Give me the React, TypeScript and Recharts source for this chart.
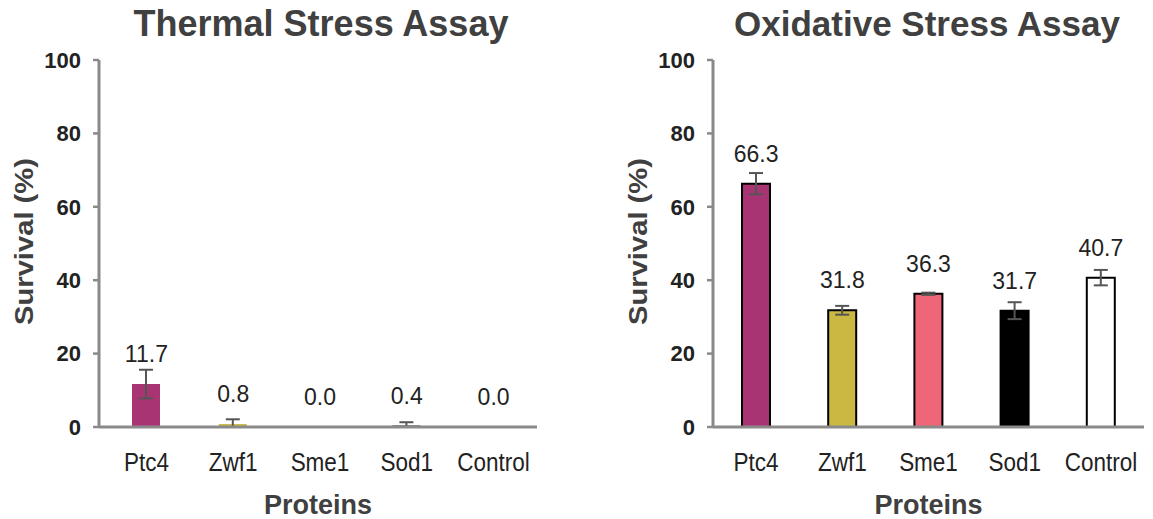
import React from 'react'
import { ComposedChart, Bar, Line, XAxis, YAxis, ErrorBar, LabelList, Cell } from 'recharts'

const proteins = ['Ptc4', 'Zwf1', 'Sme1', 'Sod1', 'Control']
const yTicks = [0, 20, 40, 60, 80, 100]

// thermal stress survival (%) and error (below, above)
const thermalSurvival = [11.7, 0.8, 0.0, 0.4, 0.0]
const thermalError = [[3.9, 3.9], [0.8, 1.3], [0, 0], [0.4, 0.9], [0, 0]]

// oxidative stress survival (%) and error
const oxidativeSurvival = [66.3, 31.8, 36.3, 31.7, 40.7]
const oxidativeError = [[2.9, 2.9], [1.2, 1.2], [0.3, 0.3], [2.3, 2.3], [2.1, 2.1]]

const barColors = ['#a93474', '#cbb843', '#ef6679', '#000000', '#ffffff']

const FONT = '"Liberation Sans", Arial, sans-serif'
const AXIS_GRAY = '#8a8a8a'

interface AssayProps {
  title: string
  titleSize: number
  values: number[]
  errors: number[][]
  outlined: boolean
  left: number
  width: number
  rightMargin: number
  padLeft: number
  titleCenter: number
}

function YTitle(props: any) {
  const vb = props.viewBox || { x: 0, y: 60, height: 367 }
  const cx = vb.x + 24
  const cy = vb.y + vb.height / 2 - 2
  return (
    <text
      x={cx}
      y={cy}
      transform={`rotate(-90, ${cx}, ${cy})`}
      textAnchor="middle"
      dominantBaseline="central"
      fontFamily={FONT}
      fontWeight="bold"
      fontSize={25}
      fill="#404040"
      textLength={167}
      lengthAdjust="spacingAndGlyphs"
    >
      Survival (%)
    </text>
  )
}

function XTitle(props: any) {
  const vb = props.viewBox || { x: 99, y: 427, width: 438 }
  return (
    <text
      x={vb.x + vb.width / 2}
      y={vb.y + 87}
      textAnchor="middle"
      fontFamily={FONT}
      fontWeight="bold"
      fontSize={27}
      fill="#404040"
    >
      Proteins
    </text>
  )
}

// slightly condensed category labels
function XTick(props: any) {
  const { x, y, payload } = props
  return (
    <text
      transform={`translate(${x}, ${y}) scale(0.9, 1)`}
      x={0}
      y={0}
      dy="0.71em"
      textAnchor="middle"
      fontFamily={FONT}
      fontSize={25}
      fill="#222"
    >
      {payload.value}
    </text>
  )
}

function AssayChart({ title, titleSize, values, errors, outlined, left, width, rightMargin, padLeft, titleCenter }: AssayProps) {
  const data = proteins.map((p, i) => ({ name: p, value: values[i], err: errors[i] }))

  return (
    <>
      <div
        style={{
          position: 'absolute',
          left: titleCenter - 300,
          top: 6,
          width: 600,
          textAlign: 'center',
          fontFamily: FONT,
          fontWeight: 'bold',
          fontSize: titleSize,
          lineHeight: '36px',
          color: '#404040',
          whiteSpace: 'nowrap'
        }}
      >
        {title}
      </div>
      <div style={{ position: 'absolute', left, top: 0 }}>
        <ComposedChart
          width={width}
          height={519}
          data={data}
          margin={{ top: 60, right: rightMargin, bottom: 0, left: 0 }}
          barSize={28}
        >
          <XAxis
            dataKey="name"
            height={92}
            padding={{ left: padLeft, right: 0 }}
            axisLine={{ stroke: AXIS_GRAY, strokeWidth: 3 }}
            tickLine={false}
            tickSize={0}
            tickMargin={26}
            tick={<XTick />}
            interval={0}
            label={{ content: XTitle }}
          />
          <YAxis
            width={99}
            domain={[0, 100]}
            ticks={yTicks}
            interval={0}
            axisLine={{ stroke: AXIS_GRAY, strokeWidth: 3 }}
            tickLine={{ stroke: AXIS_GRAY, strokeWidth: 2.5 }}
            tickSize={6}
            tickMargin={12}
            tick={{ fontFamily: FONT, fontSize: 22, fontWeight: 'bold', fill: '#222' }}
            label={{ content: YTitle }}
          />
          <Bar dataKey="value" isAnimationActive={false}>
            {data.map((d, i) => (
              <Cell
                key={d.name}
                fill={barColors[i]}
                stroke={outlined ? '#000' : 'none'}
                strokeWidth={outlined ? 2 : 0}
              />
            ))}
            <ErrorBar dataKey="err" width={7} stroke="#555" strokeWidth={2} direction="y" />
          </Bar>
          {/* invisible series that carries the value labels (zero bars included) */}
          <Line
            dataKey="value"
            stroke="none"
            dot={false}
            activeDot={false}
            isAnimationActive={false}
          >
            <LabelList
              dataKey="value"
              position="top"
              offset={22}
              formatter={(v: any) => Number(v).toFixed(1)}
              style={{ fontFamily: FONT, fontSize: 23, fill: '#222' }}
            />
          </Line>
        </ComposedChart>
      </div>
    </>
  )
}

export default function App() {
  return (
    <div style={{ position: 'absolute', left: 0, top: 0, width: 1153, height: 519, background: '#fff' }}>
      <AssayChart
        title="Thermal Stress Assay"
        titleSize={36}
        values={thermalSurvival}
        errors={thermalError}
        outlined={false}
        left={0}
        width={576}
        rightMargin={39}
        padLeft={4}
        titleCenter={321}
      />
      <AssayChart
        title="Oxidative Stress Assay"
        titleSize={35}
        values={oxidativeSurvival}
        errors={oxidativeError}
        outlined={true}
        left={614}
        width={539}
        rightMargin={9}
        padLeft={0}
        titleCenter={927}
      />
    </div>
  )
}
